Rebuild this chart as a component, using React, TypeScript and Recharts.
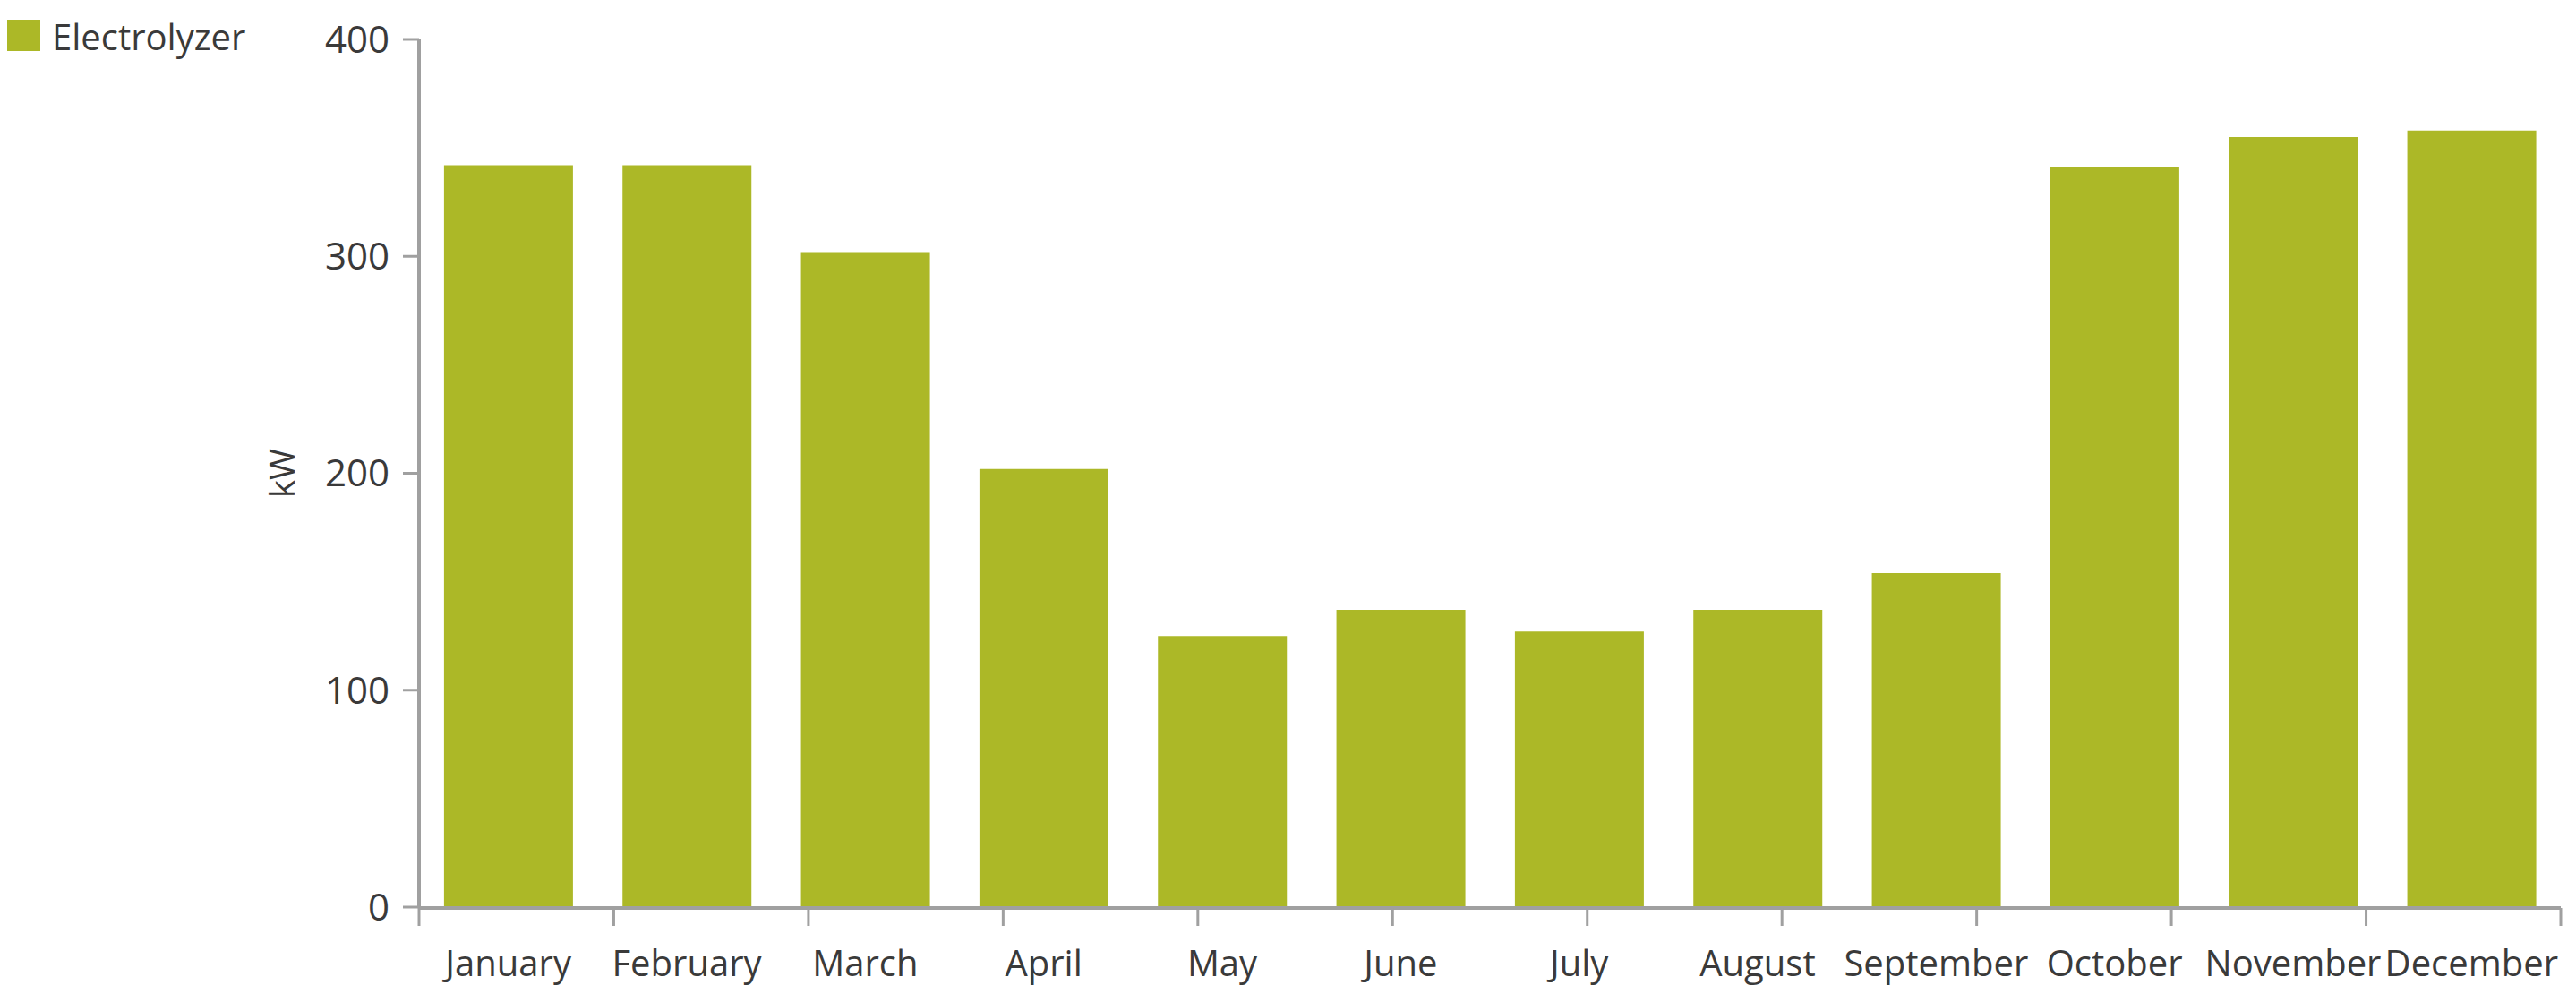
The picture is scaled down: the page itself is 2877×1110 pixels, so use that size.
import { Bar, XAxis, YAxis, Legend, BarChart } from "recharts";

const MONTHS = [
  "January",
  "February",
  "March",
  "April",
  "May",
  "June",
  "July",
  "August",
  "September",
  "October",
  "November",
  "December",
];
const ELECTROLYZER_KW = [342, 342, 302, 202, 125, 137, 127, 137, 154, 341, 355, 358];
const Y_TICKS = [0, 100, 200, 300, 400];
// band edges, so the x ticks sit between the bars like in the original
const EDGE_TICKS = [0, 1, 2, 3, 4, 5, 6, 7, 8, 9, 10, 11, 12];

const data = MONTHS.map((month, i) => ({ month, value: ELECTROLYZER_KW[i] }));

const AXIS = "#a0a0a0";
const TEXT = "#3a3a3a";
const BAR = "#acb827";
const FONT = "'Open Sans', sans-serif";

const LegendContent = ({ payload }: any) => (
  <div>
    {(payload ?? []).map((entry: any) => (
      <div key={entry.value} style={{ display: "flex", alignItems: "flex-start" }}>
        <span
          style={{
            width: 37,
            height: 35,
            background: entry.color,
            marginRight: 13,
            flex: "none",
          }}
        />
        <span style={{ fontSize: 40, lineHeight: "40px", color: TEXT, marginTop: -1 }}>
          {entry.value}
        </span>
      </div>
    ))}
  </div>
);

// no labels on the edge axis, only its tick lines
const NoLabel = () => <g />;

const App = () => {
  return (
    <div style={{ fontFamily: FONT }}>
      <BarChart
        width={2861}
        height={1094}
        data={data}
        barCategoryGap="14%"
        margin={{ top: 36, right: 9, left: 0, bottom: 87 }}
      >
        <Legend
          verticalAlign="top"
          align="left"
          content={<LegendContent />}
          wrapperStyle={{ top: 14, left: 0, height: 0, overflow: "visible" }}
        />
        <XAxis
          xAxisId="edge"
          type="number"
          domain={[0, 12]}
          ticks={EDGE_TICKS}
          allowDataOverflow
          interval={0}
          height={1}
          tick={NoLabel}
          tickSize={20}
          axisLine={{ stroke: AXIS, strokeWidth: 4 }}
          tickLine={{ stroke: AXIS, strokeWidth: 3 }}
        />
        <XAxis
          dataKey="month"
          height={1}
          interval={0}
          axisLine={false}
          tickLine={false}
          tickSize={20}
          tickMargin={29}
          tick={{ fontSize: 40, fill: TEXT, fontFamily: FONT }}
        />
        <YAxis
          width={460}
          domain={[0, 400]}
          ticks={Y_TICKS}
          tickSize={18}
          tickMargin={15}
          axisLine={{ stroke: AXIS, strokeWidth: 4 }}
          tickLine={{ stroke: AXIS, strokeWidth: 3 }}
          tick={{ fontSize: 42, fill: TEXT, fontFamily: FONT }}
          label={{
            value: "kW",
            angle: -90,
            position: "insideLeft",
            offset: 308,
            fontSize: 38,
            fill: TEXT,
            fontFamily: FONT,
            style: { textAnchor: "middle" },
          }}
        />
        <Bar
          dataKey="value"
          name="Electrolyzer"
          fill={BAR}
          isAnimationActive={false}
        />
      </BarChart>
    </div>
  );
};

export default App;
